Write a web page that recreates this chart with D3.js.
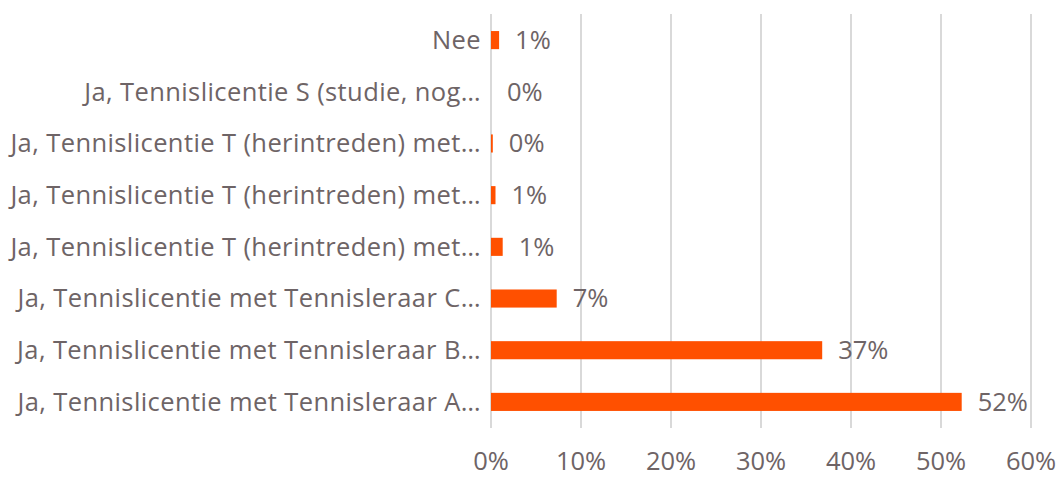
<!DOCTYPE html>
<html><head><meta charset="utf-8">
<script src="https://cdn.jsdelivr.net/npm/d3@7"></script>
<style>body{margin:0;background:#fff}svg{display:block}</style>
</head><body>
<script>
const categories = [
  "Nee",
  "Ja, Tennislicentie S (studie, nog…",
  "Ja, Tennislicentie T (herintreden) met…",
  "Ja, Tennislicentie T (herintreden) met…",
  "Ja, Tennislicentie T (herintreden) met…",
  "Ja, Tennislicentie met Tennisleraar C…",
  "Ja, Tennislicentie met Tennisleraar B…",
  "Ja, Tennislicentie met Tennisleraar A…"
];
const values = [0.009, 0.0, 0.002, 0.005, 0.013, 0.073, 0.368, 0.523];
const valueLabels = ["1%", "0%", "0%", "1%", "1%", "7%", "37%", "52%"];
const ticks = [0, 0.1, 0.2, 0.3, 0.4, 0.5, 0.6];

const W = 1060, H = 477;
const font = "'Open Sans', sans-serif";
const fs = 25.5;
const textColor = "#6e6466";
const svg = d3.select("body").append("svg").attr("width", W).attr("height", H);

const x = d3.scaleLinear().domain([0, 0.6]).range([491, 1031]);
const y = d3.scaleBand().domain(d3.range(categories.length)).range([14, 428]).paddingInner(0.65).paddingOuter(0.33);

svg.append("g").selectAll("line").data(ticks).join("line")
  .attr("x1", d => x(d)).attr("x2", d => x(d))
  .attr("y1", 14).attr("y2", 428)
  .attr("stroke", "#d9d9d9").attr("stroke-width", 2);

svg.append("g").selectAll("text").data(ticks).join("text")
  .attr("x", d => x(d)).attr("y", 461)
  .attr("dy", "0.35em").attr("text-anchor", "middle")
  .attr("font-family", font).attr("font-size", fs).attr("fill", textColor)
  .text(d => d3.format(".0%")(d));

const yc = i => y(i) + y.bandwidth() / 2;

svg.append("g").selectAll("rect").data(values).join("rect")
  .attr("x", x(0)).attr("y", (d, i) => y(i))
  .attr("width", d => x(d) - x(0)).attr("height", y.bandwidth())
  .attr("fill", "#ff5000");

svg.append("g").selectAll("text").data(categories).join("text")
  .attr("x", 481).attr("y", (d, i) => yc(i)).attr("dy", "0.35em")
  .attr("text-anchor", "end").attr("letter-spacing", 0.4)
  .attr("font-family", font).attr("font-size", fs).attr("fill", textColor)
  .text(d => d);

svg.append("g").selectAll("text").data(values).join("text")
  .attr("x", d => x(d) + 16).attr("y", (d, i) => yc(i)).attr("dy", "0.35em")
  .attr("font-family", font).attr("font-size", fs).attr("fill", textColor)
  .text((d, i) => valueLabels[i]);
</script>
</body></html>
